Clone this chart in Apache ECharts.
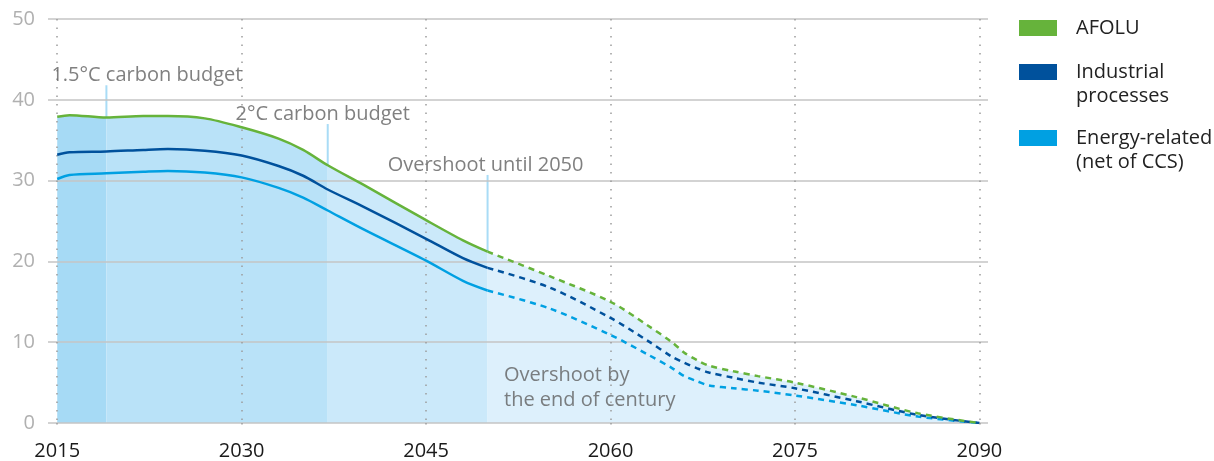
<!DOCTYPE html>
<html>
<head>
<meta charset="utf-8">
<script src="https://cdn.jsdelivr.net/npm/echarts@6/dist/echarts.min.js"></script>
<style>
html,body{margin:0;padding:0;background:#ffffff;}
#chart{width:1214px;height:461px;}
</style>
</head>
<body>
<div id="chart"></div>
<script>
// ---- Data (GtCO2, levels of each stacked line) ----
const solidYears = [2015, 2016, 2019, 2022, 2024, 2027, 2030, 2033, 2035, 2037, 2040, 2045, 2048, 2050];
const afoluTopSolid = [37.9, 38.1, 37.8, 38.0, 38.0, 37.7, 36.6, 35.2, 33.8, 31.9, 29.4, 25.1, 22.6, 21.2];
const industrialTopSolid = [33.2, 33.5, 33.6, 33.8, 33.9, 33.7, 33.1, 31.8, 30.6, 28.9, 26.7, 22.8, 20.4, 19.2];
const energySolid = [30.2, 30.7, 30.9, 31.1, 31.2, 31.0, 30.4, 29.1, 27.9, 26.3, 23.9, 20.1, 17.6, 16.4];

const dashedYears = [2050, 2055, 2060, 2063, 2065, 2066, 2067, 2068, 2070, 2072, 2075, 2080, 2085, 2090];
const afoluTopDashed = [21.2, 18.2, 15.0, 12.1, 10.0, 8.7, 7.8, 7.1, 6.4, 5.8, 5.0, 3.2, 1.2, 0];
const industrialTopDashed = [19.2, 16.8, 13.0, 10.2, 8.2, 7.45, 6.8, 6.25, 5.6, 5.0, 4.3, 2.7, 1.0, 0];
const energyDashed = [16.4, 14.2, 10.9, 8.5, 6.8, 5.8, 5.2, 4.65, 4.3, 4.0, 3.4, 2.2, 0.8, 0];

const seriesNames = ['AFOLU', 'Industrial processes', 'Energy-related (net of CCS)'];
const legendLabels = ['AFOLU', 'Industrial\nprocesses', 'Energy-related\n(net of CCS)'];

// budget periods: boundaries of shaded regions
const regionBounds = [2015, 2019, 2037, 2050, 2090];
const budgetYears = [2019, 2037, 2050];
const budgetTops = [41.8, 37.0, 30.7];
const budgetLabels = ['1.5°C carbon budget', '2°C carbon budget', 'Overshoot until 2050'];
const centuryNote = { year: 2051.3, value: 4.4, text: 'Overshoot by\nthe end of century' };

const xTicks = [2015, 2030, 2045, 2060, 2075, 2090];

// ---- Styling ----
const C_GREEN = '#66b33b';
const C_DARK = '#00519c';
const C_LIGHT = '#00a0e2';
const regionColors = ['#a6daf5', '#b9e2f8', '#cbe9fa', '#ddf0fc'];
const FONT = '"Open Sans", "Noto Sans", sans-serif';
const SMOOTH = 0.3;

function pairs(xs, ys) { return xs.map((x, i) => [x, ys[i]]); }

const totalYears = solidYears.concat(dashedYears.slice(1));
const totalLevels = afoluTopSolid.concat(afoluTopDashed.slice(1));
function totalAt(y) { return totalLevels[totalYears.indexOf(y)]; }

const series = [];

// shaded regions under the total line
for (let r = 0; r < regionBounds.length - 1; r++) {
  const a = regionBounds[r], b = regionBounds[r + 1];
  const d = [];
  totalYears.forEach((yr, i) => { if (yr >= a && yr <= b) d.push([yr, totalLevels[i]]); });
  series.push({
    type: 'line', data: d, smooth: SMOOTH, symbol: 'none', silent: true,
    lineStyle: { width: 0 }, areaStyle: { color: regionColors[r], opacity: 1 }, z: 1
  });
}

// budget marker lines
budgetYears.forEach((yr, i) => {
  series.push({
    type: 'line', data: [[yr, budgetTops[i]], [yr, totalAt(yr)]], symbol: 'none', silent: true,
    lineStyle: { color: '#a9dcf6', width: 2 }, z: 2
  });
});

// emission lines
const lineSets = [
  [seriesNames[2], C_LIGHT, energySolid, energyDashed],
  [seriesNames[1], C_DARK, industrialTopSolid, industrialTopDashed],
  [seriesNames[0], C_GREEN, afoluTopSolid, afoluTopDashed]
];
lineSets.forEach(([name, color, solid, dashed]) => {
  series.push({
    name, type: 'line', data: pairs(solidYears, solid), smooth: SMOOTH,
    symbol: 'none', color, lineStyle: { color, width: 2.5 }, z: 4
  });
  series.push({
    name, type: 'line', data: pairs(dashedYears, dashed), smooth: SMOOTH,
    symbol: 'none', color, lineStyle: { color, width: 2.5, type: [6, 5] }, z: 4
  });
});

// annotation labels
const labelOffsets = [[40.5, 1], [-5, 1], [-2, 1]];
series.push({
  type: 'scatter', silent: true, symbolSize: 1, itemStyle: { color: 'rgba(0,0,0,0)' }, z: 5,
  data: budgetYears.map((yr, i) => ({
    value: [yr, budgetTops[i]],
    label: {
      show: true, formatter: budgetLabels[i], position: 'top', distance: 0,
      offset: labelOffsets[i], color: '#606060', fontFamily: FONT, fontSize: 20, lineHeight: 20
    }
  })).concat([{
    value: [centuryNote.year, centuryNote.value],
    label: {
      show: true, formatter: centuryNote.text, position: 'right', distance: 0, align: 'left',
      color: '#606060', fontFamily: FONT, fontSize: 20, lineHeight: 25
    }
  }])
});

function makeLegend(idx, top, twoLine) {
  return {
    data: [{ name: seriesNames[idx], icon: 'rect' }],
    left: 1014, top, orient: 'vertical', itemWidth: 38, itemHeight: 16, selectedMode: false,
    formatter: () => (twoLine ? ' \n' : '') + legendLabels[idx],
    textStyle: {
      color: '#222222', fontFamily: FONT, fontSize: 20, lineHeight: 24,
      padding: [0, 0, 0, 14]
    }
  };
}

const option = {
  animation: false,
  backgroundColor: '#ffffff',
  grid: { left: 48, right: 226, top: 19, bottom: 35, containLabel: false },
  legend: [makeLegend(0, 11, false), makeLegend(1, 31, true), makeLegend(2, 97, true)],
  xAxis: {
    type: 'value', min: 2014.25, max: 2090.7, z: 3,
    axisLine: { show: false },
    axisTick: { show: true, customValues: xTicks, length: 8, lineStyle: { color: '#9c9c9c', width: 1.5, type: [1.5, 7] } },
    axisLabel: { customValues: xTicks, formatter: v => String(v), color: '#1a1a1a', fontFamily: FONT, fontSize: 20, margin: 18 },
    splitLine: { show: true, lineStyle: { color: '#9c9c9c', width: 1.5, type: [1.5, 7] } }
  },
  yAxis: {
    type: 'value', min: 0, max: 50, interval: 10, z: 3,
    axisLine: { show: false }, axisTick: { show: false },
    axisLabel: { color: '#b0b0b0', fontFamily: FONT, fontSize: 20, margin: 13, padding: [5, 0, 0, 0] },
    splitLine: { show: true, lineStyle: { color: '#c4c4c4', width: 1.5 } }
  },
  series
};

const chart = echarts.init(document.getElementById('chart'), null, { renderer: 'canvas' });
chart.setOption(option);
</script>
</body>
</html>
